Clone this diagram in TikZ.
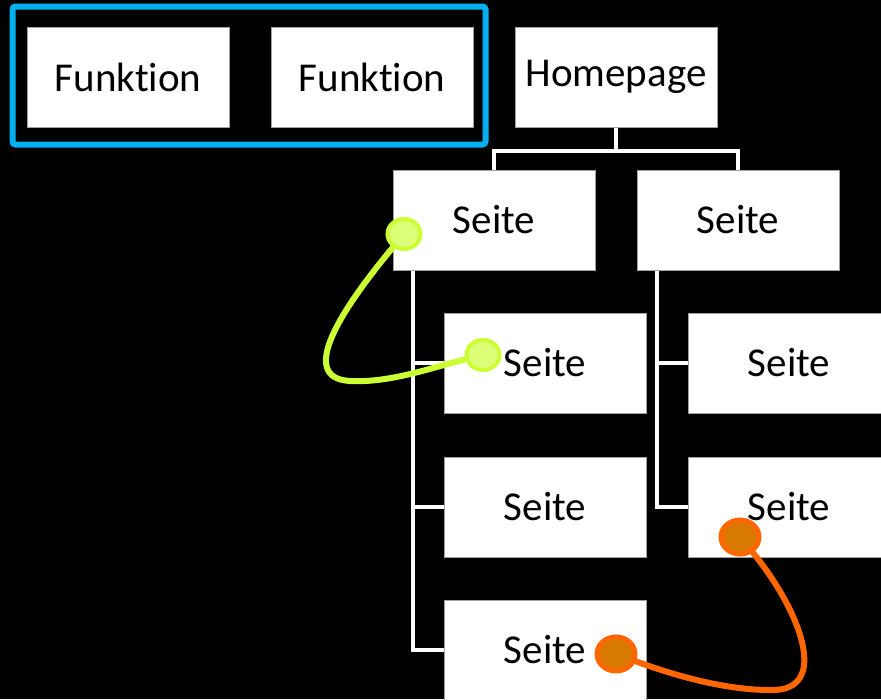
\documentclass[tikz,border=0pt]{standalone}
\usepackage{fontspec}
\setmainfont{Carlito}[Ligatures={NoCommon,NoRare,NoContextual}]
\usetikzlibrary{positioning,calc,shapes.geometric}
\definecolor{framecyan}{HTML}{00B0F0}
\definecolor{limeline}{HTML}{CCFF33}
\definecolor{limefill}{HTML}{DDFF77}
\definecolor{linkorange}{HTML}{FF6600}
\definecolor{rustfill}{HTML}{D87A00}
\definecolor{boxgray}{HTML}{A0A0A0}

\begin{document}
\begin{tikzpicture}[x=1pt, y=-1pt,
  page/.style={draw=boxgray, line width=1pt, fill=white, minimum width=202pt, minimum height=100pt, inner sep=0pt, font=\fontsize{41}{48}\selectfont},
  tree/.style={draw=white, line width=4pt},
  limedot/.style={ellipse, draw=limeline, line width=4pt, fill=limefill, minimum width=33pt, minimum height=30pt, inner sep=0pt},
  rustdot/.style={ellipse, draw=linkorange, line width=5pt, fill=rustfill, minimum width=38pt, minimum height=34pt, inner sep=0pt},
  link/.style={line width=6pt, line cap=round}
]
  \path[use as bounding box, fill=black] (0,0) rectangle (881,699);
  \clip (0,0) rectangle (881,699);

  \node[page] (fa) at (128,77) {Funktion};
  \node[page] (fb) at (372,77) {Funktion};
  \node[page] (hp) at (616,77) {Homepage};
  \node[page] (sa) at (494,220) {Seite};
  \node[page] (sb) at (738,220) {Seite};
  \node[page] (sa1) at (545,363) {Seite};
  \node[page] (sa2) at (545,507) {Seite};
  \node[page] (sa3) at (545,650) {Seite};
  \node[page] (sb1) at (789,363) {Seite};
  \node[page] (sb2) at (789,507) {Seite};

  \draw[tree] (hp.south) -- ++(0,23) -| (sa.north);
  \draw[tree] (hp.south) -- ++(0,23) -| (sb.north);
  \draw[tree] ($(sa.south west)+(20,0)$) |- (sa1.west);
  \draw[tree] ($(sa.south west)+(20,0)$) |- (sa2.west);
  \draw[tree] ($(sa.south west)+(20,0)$) |- (sa3.west);
  \draw[tree] ($(sb.south west)+(20,0)$) |- (sb1.west);
  \draw[tree] ($(sb.south west)+(20,0)$) |- (sb2.west);

  \draw[framecyan, line width=6pt, rounded corners=3pt]
    ($(fa.north west)+(-14,-20)$) rectangle ($(fb.south east)+(12,17)$);

  \node[limedot] (ga) at (404,234) {};
  \node[limedot] (gb) at (483,355) {};
  \node[rustdot] (oa) at (740,537) {};
  \node[rustdot] (ob) at (616,654) {};

  \draw[link, limeline] (ga) .. controls (345,305) and (295,378) .. (350,381)
    .. controls (390,383) and (430,368) .. (gb);
  \draw[link, linkorange] (oa) .. controls (800,610) and (832,692) .. (770,690)
    .. controls (720,690) and (665,672) .. (ob);
\end{tikzpicture}
\end{document}
